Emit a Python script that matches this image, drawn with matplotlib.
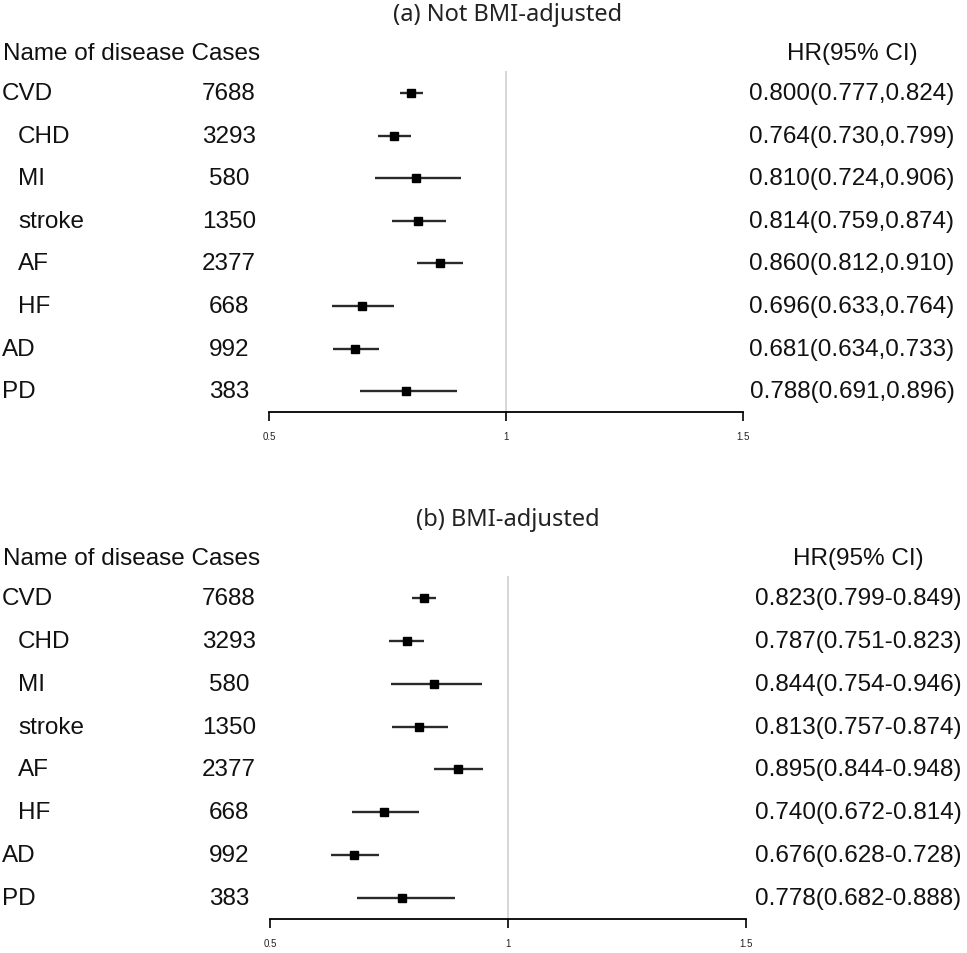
import numpy as np
import matplotlib
matplotlib.use('Agg')
import matplotlib.pyplot as plt
from matplotlib.transforms import blended_transform_factory

plt.rcParams['font.family'] = ['Liberation Sans', 'DejaVu Sans']

# data
diseases = ['CVD', 'CHD', 'MI', 'stroke', 'AF', 'HF', 'AD', 'PD']
indent = [False, True, True, True, True, True, False, False]
cases = [7688, 3293, 580, 1350, 2377, 668, 992, 383]

hr_a = [0.800, 0.764, 0.810, 0.814, 0.860, 0.696, 0.681, 0.788]
lo_a = [0.777, 0.730, 0.724, 0.759, 0.812, 0.633, 0.634, 0.691]
hi_a = [0.824, 0.799, 0.906, 0.874, 0.910, 0.764, 0.733, 0.896]

hr_b = [0.823, 0.787, 0.844, 0.813, 0.895, 0.740, 0.676, 0.778]
lo_b = [0.799, 0.751, 0.754, 0.757, 0.844, 0.672, 0.628, 0.682]
hi_b = [0.849, 0.823, 0.946, 0.874, 0.948, 0.814, 0.728, 0.888]

W, H = 967, 954
fig = plt.figure(figsize=(W / 100, H / 100), dpi=100)


def px_rect(x0, x1, ytop, ybot):
    return [x0 / W, 1 - ybot / H, (x1 - x0) / W, (ybot - ytop) / H]


def panel(rect, title, hr, lo, hi, sep, hr_x):
    ax = fig.add_axes(rect)
    y = np.arange(len(diseases))
    ax.set_xlim(0.5, 1.5)
    ax.set_ylim(7.49, -0.515)
    ax.axvline(1, color='#d4d4d4', lw=1.3, zorder=1)
    ax.hlines(y, lo, hi, color='#2a2a2a', lw=1.7, zorder=2)
    ax.plot(hr, y, 's', color='black', ms=5.5, zorder=3)

    for s in ['top', 'right', 'left']:
        ax.spines[s].set_visible(False)
    ax.spines['bottom'].set_linewidth(1.3)
    ax.set_yticks([])
    ax.set_xticks([0.5, 1, 1.5])
    ax.set_xticklabels(['0.5', '1', '1.5'], fontsize=7, color='#222222')
    ax.tick_params(axis='x', direction='out', length=6.5, width=1.2, pad=7)

    tr = blended_transform_factory(fig.transFigure, ax.transData)
    fs = 17.5
    ax.text(508 / W, -1.856, title, transform=tr, ha='center', va='center',
            fontsize=17, family=['Noto Sans', 'DejaVu Sans'], color='#222222')
    ax.text(3 / W, -0.94, 'Name of disease Cases', transform=tr, ha='left',
            va='center', fontsize=fs, color='#111111')
    ax.text(hr_x / W, -0.94, 'HR(95% CI)', transform=tr, ha='center',
            va='center', fontsize=fs, color='#111111')
    for i in range(len(diseases)):
        x = 18 if indent[i] else 2
        ax.text(x / W, i, diseases[i], transform=tr, ha='left', va='center',
                fontsize=fs, color='#111111')
        ax.text(229 / W, i, str(cases[i]), transform=tr, ha='center',
                va='center', fontsize=fs, color='#111111')
        txt = '%.3f(%.3f%s%.3f)' % (hr[i], lo[i], sep, hi[i])
        ax.text(hr_x / W, i, txt, transform=tr, ha='center', va='center',
                fontsize=fs, color='#111111')
    return ax


panel(px_rect(269, 743, 72, 413), '(a) Not BMI-adjusted', hr_a, lo_a, hi_a, ',', 852)
panel(px_rect(270, 746, 577, 920), '(b) BMI-adjusted', hr_b, lo_b, hi_b, '-', 858)

fig.savefig('out.png', dpi=100)
